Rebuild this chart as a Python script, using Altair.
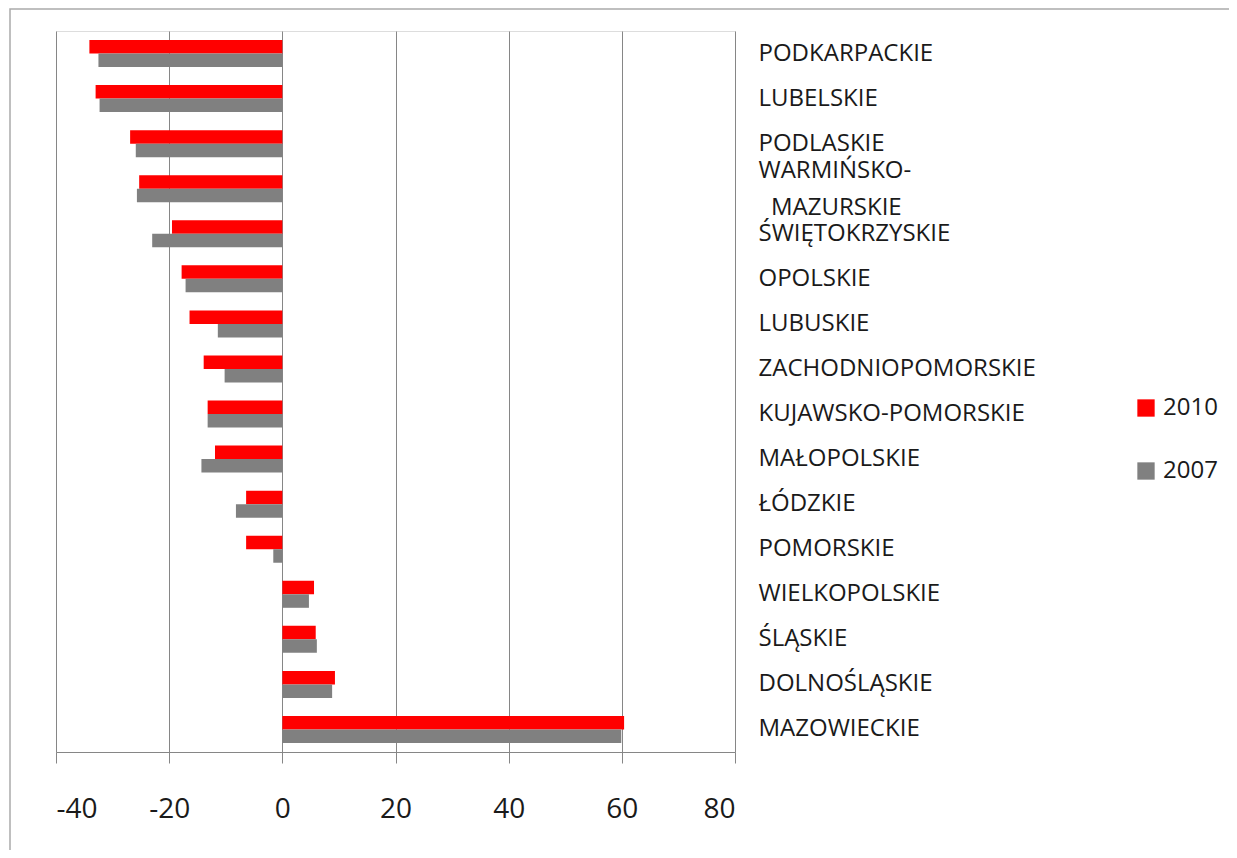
import altair as alt
import pandas as pd

regions = [
    "PODKARPACKIE", "LUBELSKIE", "PODLASKIE",
    "WARMIŃSKO-|\u200c\u00a0\u00a0MAZURSKIE",
    "ŚWIĘTOKRZYSKIE", "OPOLSKIE", "LUBUSKIE", "ZACHODNIOPOMORSKIE",
    "KUJAWSKO-POMORSKIE", "MAŁOPOLSKIE", "ŁÓDZKIE", "POMORSKIE",
    "WIELKOPOLSKIE", "ŚLĄSKIE", "DOLNOŚLĄSKIE", "MAZOWIECKIE",
]
v2010 = [-34.1, -33.0, -26.9, -25.3, -19.5, -17.8, -16.4, -13.9,
         -13.2, -11.9, -6.4, -6.4, 5.6, 5.9, 9.3, 60.4]
v2007 = [-32.5, -32.3, -25.9, -25.7, -23.0, -17.1, -11.4, -10.2,
         -13.2, -14.3, -8.2, -1.6, 4.7, 6.1, 8.8, 59.9]
years = ["2010", "2007"]
colors = ["#ff0000", "#808080"]
x_ticks = [-40, -20, 0, 20, 40, 60, 80]

rows = []
for r, a, b in zip(regions, v2010, v2007):
    rows.append({"region": r, "year": "2010", "value": a})
    rows.append({"region": r, "year": "2007", "value": b})
df = pd.DataFrame(rows)

W, H = 679, 721
FONT = "Open Sans"

frame = alt.Chart(alt.Data(values=[{}])).mark_rect(
    fill=None, stroke="#aaaaaa", strokeWidth=1.5
).encode(
    x=alt.value(-46), x2=alt.value(1400),
    y=alt.value(-22), y2=alt.value(1000),
)

bars = alt.Chart(df).mark_bar().encode(
    x=alt.X("value:Q",
            scale=alt.Scale(domain=[-40, 80], nice=False, zero=False),
            axis=alt.Axis(values=x_ticks, title=None, grid=True,
                          gridColor="#868686", gridWidth=1,
                          domainColor="#868686", tickColor="#868686",
                          tickSize=11, labelPadding=32, labelFontSize=28,
                          labelFont=FONT, labelColor="#1a1a1a",
                          labelExpr="'' + datum.value")),
    y=alt.Y("region:N", sort=regions,
            scale=alt.Scale(paddingInner=0.4, paddingOuter=0.2),
            axis=alt.Axis(orient="right", title=None, ticks=False,
                          domain=False, grid=False, labelPadding=23,
                          labelAlign="left", labelBaseline="middle",
                          labelFontSize=24, labelFont=FONT,
                          labelColor="#1a1a1a", labelLineHeight=37,
                          labelLimit=400,
                          labelOffset={"condition": {
                              "test": "indexof(datum.value, '|') >= 0",
                              "value": -18}, "value": 0},
                          labelExpr="split(datum.value, '|')")),
    yOffset=alt.YOffset("year:N", sort=years),
    color=alt.Color("year:N",
                    scale=alt.Scale(domain=years, range=colors),
                    legend=alt.Legend(orient="none", legendX=1078,
                                      legendY=365, title=None,
                                      symbolType="square", symbolSize=300,
                                      symbolStrokeWidth=0,
                                      labelFontSize=24, labelFont=FONT,
                                      labelColor="#1a1a1a",
                                      rowPadding=39, labelOffset=5)),
)

chart = alt.layer(frame, bars).properties(
    width=W, height=H,
    autosize=alt.AutoSizeParams(type="none"),
    padding={"left": 48, "top": 23, "right": 494, "bottom": 98},
).configure_view(stroke=None).configure(background="white")

chart.save("out.html", embed_options={"renderer": "svg", "actions": False})
